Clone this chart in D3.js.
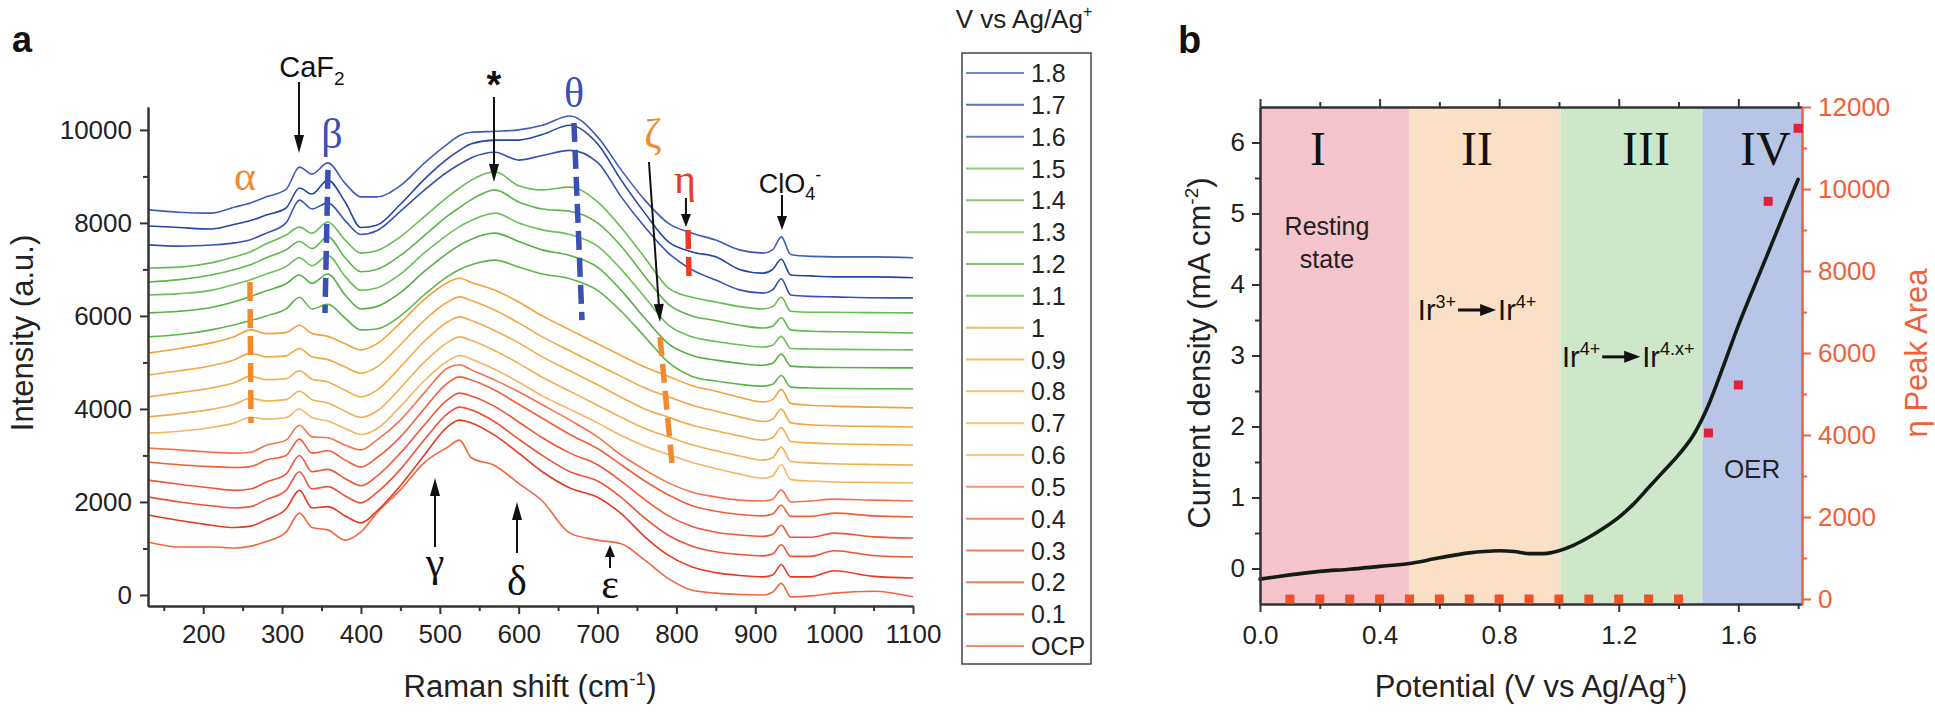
<!DOCTYPE html>
<html><head><meta charset="utf-8">
<script src="https://cdn.jsdelivr.net/npm/d3@7"></script>
<style>body{margin:0;background:#fff}svg{display:block}</style>
</head><body><svg id="c" width="1935" height="713"></svg>
<script>
// ---------------- DATA: panel a (Raman spectra) ----------------
const ramanShift = [130,170,210,240,260,280,305,322,338,358,380,400,420,450,480,510,525,540,570,600,630,665,700,730,760,790,820,850,880,910,922,933,945,970,1000,1050,1100];
const potentials = ["1.8","1.7","1.6","1.5","1.4","1.3","1.2","1.1","1","0.9","0.8","0.7","0.6","0.5","0.4","0.3","0.2","0.1","OCP"];
const spec_1_8 = [8280,8230,8210,8340,8430,8560,8720,9200,9050,9290,8850,8560,8560,8800,9280,9700,9880,9950,9970,10000,10100,10300,9850,9140,8490,7990,7780,7630,7420,7350,7420,7700,7320,7280,7270,7270,7250];
const spec_1_7 = [7935,7900,7870,7970,8050,8170,8320,8750,8620,8920,8450,7900,7950,8400,8930,9380,9560,9700,9780,9780,9900,10100,9700,8920,8210,7590,7375,7270,7000,6920,7000,7220,6880,6860,6840,6840,6820];
const spec_1_6 = [7527,7500,7525,7570,7640,7780,8000,8490,8300,8430,8050,7750,7830,8250,8700,9100,9260,9400,9520,9350,9450,9560,9300,8560,7910,7350,6990,6770,6560,6490,6560,6800,6450,6420,6410,6390,6387];
const spec_1_5 = [7030,7050,7140,7270,7380,7550,7740,7910,7780,8020,7630,7350,7400,7700,8130,8560,8750,8920,9100,8800,8710,8770,8450,7900,7250,6600,6400,6300,6200,6150,6200,6400,6100,6080,6080,6070,6065];
const spec_1_4 = [6730,6780,6880,7000,7100,7250,7420,7600,7450,7700,7250,6950,7000,7300,7720,8150,8330,8500,8710,8450,8300,8250,8000,7500,6850,6250,6000,5900,5800,5740,5780,5960,5700,5670,5660,5650,5634];
const spec_1_3 = [6450,6480,6550,6680,6780,6900,7060,7250,7080,7300,6850,6550,6600,6900,7350,7750,7920,8050,8210,8000,7850,7750,7500,7000,6400,5800,5550,5450,5380,5330,5370,5560,5300,5290,5280,5275,5269];
const spec_1_2 = [6065,6100,6180,6310,6420,6540,6690,6880,6700,6900,6450,6150,6200,6500,6950,7350,7520,7650,7780,7600,7420,7300,7050,6550,5950,5400,5150,5050,4980,4940,4980,5180,4920,4900,4890,4885,4882];
const spec_1_1 = [5550,5600,5700,5810,5900,6000,6150,6400,6150,6250,5950,5700,5720,6000,6450,6850,7000,7100,7200,7050,6900,6800,6550,6100,5550,5000,4700,4600,4530,4490,4530,4720,4470,4450,4440,4435,4430];
const spec_1_0 = [5200,5300,5420,5560,5700,5620,5640,5800,5620,5560,5400,5270,5400,5850,6350,6720,6810,6720,6550,6300,6000,5700,5400,5150,4900,4700,4500,4380,4250,4150,4200,4420,4120,4080,4060,4040,4022];
const spec_0_9 = [4730,4820,4930,5060,5200,5120,5140,5300,5120,5060,4900,4770,4900,5380,5900,6300,6410,6330,6120,5850,5550,5250,4950,4700,4450,4260,4080,3950,3830,3730,3780,4000,3700,3660,3640,3625,3613];
const spec_0_8 = [4260,4350,4450,4570,4700,4630,4650,4820,4640,4580,4400,4260,4400,4900,5450,5870,5980,5900,5680,5420,5120,4820,4520,4250,4000,3820,3650,3530,3420,3330,3380,3600,3300,3270,3250,3235,3226];
const spec_0_7 = [3830,3900,3990,4100,4230,4170,4200,4380,4200,4130,3950,3820,3950,4450,5000,5430,5550,5470,5250,4980,4680,4380,4080,3820,3580,3400,3230,3100,2990,2900,2950,3180,2870,2840,2820,2805,2796];
const spec_0_6 = [3480,3520,3600,3700,3820,3780,3810,4000,3810,3740,3580,3450,3570,4050,4600,5030,5150,5070,4850,4580,4280,3990,3700,3430,3200,3020,2850,2720,2600,2510,2560,2800,2480,2450,2430,2420,2409];
const spec_0_5 = [3160,3120,3070,3050,3070,3220,3330,3650,3400,3380,3220,3120,3330,3760,4340,4880,4950,4840,4620,4370,4090,3760,3400,3010,2690,2410,2210,2110,2040,2020,2060,2260,2000,2020,2060,2040,2022];
const spec_0_4 = [2860,2800,2760,2740,2760,2900,3000,3350,3050,3100,2900,2750,2950,3400,4000,4560,4690,4620,4400,4100,3800,3450,3150,2800,2450,2150,1920,1800,1730,1700,1740,1930,1690,1690,1760,1700,1677];
const spec_0_3 = [2470,2380,2300,2250,2280,2430,2600,3000,2650,2700,2500,2350,2550,3050,3650,4200,4340,4280,4050,3720,3380,3050,2800,2450,2050,1700,1470,1350,1290,1260,1300,1500,1240,1240,1330,1250,1226];
const spec_0_2 = [2110,2000,1920,1870,1900,2050,2250,2650,2280,2330,2130,1980,2200,2700,3330,3900,4040,3980,3720,3350,3000,2650,2450,2100,1650,1280,1050,930,870,840,880,1080,830,830,950,850,817];
const spec_0_1 = [1720,1600,1500,1450,1480,1620,1850,2250,1870,1900,1700,1550,1800,2350,3000,3620,3760,3700,3430,3050,2650,2300,2100,1750,1250,850,600,480,420,390,430,650,390,390,520,400,366];
const spec_OCP = [1140,1030,1030,1010,1050,1150,1350,1760,1450,1400,1180,1355,1760,2260,2840,3180,3330,2950,2780,2400,2020,1330,1180,1100,750,350,100,40,10,0,60,250,-40,-20,40,80,-40];
const traceColors = ["#3f5bb8","#2346a4","#3552b2","#67bb54","#5db64b","#6cbf5a","#55b044","#5cb54a","#f2a238","#f3a741","#f4ab4a","#f3ae51","#f5b560","#f3724e","#f25e3a","#f15634","#ef5236","#e8391f","#f2663f"];
const ramanTicks = [200,300,400,500,600,700,800,900,1000,1100];
const ramanMinor = [150,250,350,450,550,650,750,850,950,1050];
const intensityTicks = [0,2000,4000,6000,8000,10000];
const intensityMinor = [1000,3000,5000,7000,9000];

// ---------------- DATA: panel b ----------------
const cvPotential = [0,0.05,0.1,0.2,0.3,0.4,0.5,0.6,0.7,0.75,0.8,0.85,0.9,0.95,1.0,1.05,1.1,1.15,1.2,1.25,1.3,1.35,1.4,1.45,1.5,1.55,1.6,1.65,1.7,1.75,1.8];
const cvCurrent = [-0.15,-0.12,-0.09,-0.04,-0.01,0.03,0.07,0.15,0.22,0.24,0.25,0.24,0.21,0.21,0.25,0.33,0.44,0.57,0.72,0.91,1.14,1.37,1.6,1.88,2.3,2.85,3.42,3.94,4.45,4.97,5.48];
const peakPotential = [0.1,0.2,0.3,0.4,0.5,0.6,0.7,0.8,0.9,1.0,1.1,1.2,1.3,1.4,1.5,1.6,1.7,1.8];
const peakArea = [0,0,0,0,0,0,0,0,0,0,0,0,0,0,4050,5220,9700,11480];
const regionNames = ["I","II","III","IV"];
const regionStart = [0,0.5,1.005,1.48];
const regionEnd = [0.5,1.005,1.48,1.813];
const regionColors = ["#f5c4cc","#fae0c6","#cee6ca","#b9c5e6"];
const potentialTicks = [0,0.4,0.8,1.2,1.6];
const potentialMinor = [0.2,0.6,1.0,1.4,1.8];
const currentTicks = [0,1,2,3,4,5,6];
const currentMinor = [0.5,1.5,2.5,3.5,4.5,5.5];
const areaTicks = [0,2000,4000,6000,8000,10000,12000];
const areaMinor = [1000,3000,5000,7000,9000,11000];

// ---------------- DRAW ----------------
const FONT = "'Liberation Sans', Arial, Helvetica, sans-serif";
const SERIF = "'Liberation Serif', 'Times New Roman', serif";
const svg = d3.select('#c');
const specArrays = [spec_1_8,spec_1_7,spec_1_6,spec_1_5,spec_1_4,spec_1_3,spec_1_2,spec_1_1,spec_1_0,spec_0_9,spec_0_8,spec_0_7,spec_0_6,spec_0_5,spec_0_4,spec_0_3,spec_0_2,spec_0_1,spec_OCP];
const intFmt = d3.format('d');

function styleAxis(g, color, textColor){
  g.attr('font-family',FONT).attr('font-size',26);
  g.selectAll('.domain').attr('stroke',color).attr('stroke-width',2);
  g.selectAll('.tick line').attr('stroke',color).attr('stroke-width',2);
  g.selectAll('.tick text').attr('fill',textColor||color);
}
function arrow(g,x1,y1,x2,y2,hl,hw,sw){
  hl=hl||16; hw=hw||5; sw=sw||2;
  const a=Math.atan2(y2-y1,x2-x1);
  const bx=x2-hl*Math.cos(a), by=y2-hl*Math.sin(a);
  g.append('line').attr('x1',x1).attr('y1',y1).attr('x2',bx+Math.cos(a)*2).attr('y2',by+Math.sin(a)*2).attr('stroke','#111').attr('stroke-width',sw);
  const px=-Math.sin(a)*hw, py=Math.cos(a)*hw;
  g.append('path').attr('d',`M${x2},${y2}L${bx+px},${by+py}L${bx-px},${by-py}Z`).attr('fill','#111');
}

// ===== Panel a =====
const xA = d3.scaleLinear().domain([130,1100]).range([148,913]);
const yA = d3.scaleLinear().domain([-237,10492]).range([606,107]);
const gA = svg.append('g');

const line = d3.line().x((d,i)=>xA(ramanShift[i])).y(d=>yA(d)).curve(d3.curveMonotoneX);
for(let i=specArrays.length-1;i>=0;i--){
  gA.append('path').attr('d',line(specArrays[i])).attr('fill','none')
    .attr('stroke',traceColors[i]).attr('stroke-width',1.6).attr('stroke-linejoin','round');
}

gA.append('g').attr('transform','translate(148,0)').call(d3.axisLeft(yA).tickValues(intensityMinor).tickSize(5).tickFormat('').tickSizeOuter(0)).call(g=>styleAxis(g,'#333'));
gA.append('g').attr('transform','translate(148,0)').call(d3.axisLeft(yA).tickValues(intensityTicks).tickFormat(intFmt).tickSize(8).tickPadding(8).tickSizeOuter(0)).call(g=>styleAxis(g,'#333','#222'));
gA.append('g').attr('transform','translate(0,606)').call(d3.axisBottom(xA).tickValues(ramanMinor).tickSize(5).tickFormat('').tickSizeOuter(0)).call(g=>styleAxis(g,'#333'));
gA.append('g').attr('transform','translate(0,606)').call(d3.axisBottom(xA).tickValues(ramanTicks).tickFormat(intFmt).tickSize(8).tickPadding(11).tickSizeOuter(0)).call(g=>styleAxis(g,'#333','#222'));

// dashed annotation lines (data units)
const dashMarks = [
  {x1:358.2,y1:9140,x2:354.4,y2:6063,c:'#3a50b4'},
  {x1:670.1,y1:10148,x2:680.3,y2:5912,c:'#3a50b4'},
  {x1:259.3,y1:6730,x2:260.6,y2:3698,c:'#f28a2e'},
  {x1:779.2,y1:5547,x2:794.4,y2:2838,c:'#f28a2e'},
  {x1:814.7,y1:7848,x2:816.0,y2:6816,c:'#ec3a24'}
];
dashMarks.forEach(d=>{
  gA.append('line').attr('x1',xA(d.x1)).attr('y1',yA(d.y1)).attr('x2',xA(d.x2)).attr('y2',yA(d.y2))
    .attr('stroke',d.c).attr('stroke-width',5.5).attr('stroke-dasharray','19,8');
});
// arrows (data units)
const arrowsA = [
  {x1:321.5,y1:11030,x2:321.5,y2:9503},
  {x1:568.7,y1:10707,x2:568.7,y2:8880},
  {x1:765.2,y1:9310,x2:779.2,y2:5870},
  {x1:812.1,y1:8536,x2:812.1,y2:7912,h:13},
  {x1:933.9,y1:8600,x2:933.9,y2:7848,h:14},
  {x1:493.9,y1:1032,x2:493.9,y2:2516},
  {x1:597.9,y1:903,x2:597.9,y2:2000},
  {x1:715.8,y1:580,x2:715.8,y2:1075,h:12}
];
arrowsA.forEach(d=>arrow(gA,xA(d.x1),yA(d.y1),xA(d.x2),yA(d.y2),d.h||18,5,2));

// greek labels
const greekA = [
  {t:'α',x:253,y:8708,c:'#f28a2e'},
  {t:'β',x:363.3,y:9610,c:'#3a50b4'},
  {t:'θ',x:670.1,y:10492,c:'#3a50b4'},
  {t:'ζ',x:770.3,y:9610,c:'#f28a2e'},
  {t:'η',x:810.9,y:8643,c:'#ec3a24'},
  {t:'γ',x:493.9,y:408,c:'#111'},
  {t:'δ',x:597.9,y:0,c:'#111'},
  {t:'ε',x:715.8,y:-65,c:'#111'}
];
greekA.forEach(d=>{
  gA.append('text').attr('x',xA(d.x)).attr('y',yA(d.y)).attr('text-anchor','middle')
    .attr('font-family',SERIF).attr('font-size',42).attr('fill',d.c).text(d.t);
});
// CaF2
const caf = gA.append('text').attr('x',xA(337.9)).attr('y',yA(11137)).attr('text-anchor','middle')
  .attr('font-family',FONT).attr('font-size',29).attr('fill','#111');
caf.append('tspan').text('CaF');
caf.append('tspan').attr('font-size',19).attr('dy',8).text('2');
// asterisk
gA.append('text').attr('x',xA(568.7)).attr('y',yA(10685)).attr('text-anchor','middle')
  .attr('font-family',FONT).attr('font-size',38).attr('font-weight','bold').attr('fill','#111').text('*');
// ClO4-
const clo = gA.append('text').attr('x',xA(944)).attr('y',yA(8643)).attr('text-anchor','middle')
  .attr('font-family',FONT).attr('font-size',27).attr('fill','#111');
clo.append('tspan').text('ClO');
clo.append('tspan').attr('font-size',18).attr('dy',7).text('4');
clo.append('tspan').attr('font-size',18).attr('dy',-19).text('-');

// panel a titles
svg.append('text').attr('x',12).attr('y',52).attr('font-family',FONT).attr('font-weight','bold').attr('font-size',36).attr('fill','#111').text('a');
svg.append('text').attr('transform','translate(33,333) rotate(-90)').attr('text-anchor','middle')
  .attr('font-family',FONT).attr('font-size',31).attr('fill','#222').text('Intensity (a.u.)');
const rt = svg.append('text').attr('x',530).attr('y',697).attr('text-anchor','middle')
  .attr('font-family',FONT).attr('font-size',31).attr('fill','#222');
rt.append('tspan').text('Raman shift (cm');
rt.append('tspan').attr('font-size',19).attr('dy',-12).text('-1');
rt.append('tspan').attr('dy',12).text(')');

// ===== Legend =====
const leg = svg.append('g');
const lt = leg.append('text').attr('x',1024).attr('y',28).attr('text-anchor','middle')
  .attr('font-family',FONT).attr('font-size',26).attr('fill','#222');
lt.append('tspan').text('V vs Ag/Ag');
lt.append('tspan').attr('font-size',16).attr('dy',-11).text('+');
leg.append('rect').attr('x',962).attr('y',53).attr('width',129).attr('height',611)
  .attr('fill','none').attr('stroke','#444').attr('stroke-width',1.5);
const legY = d3.scalePoint().domain(potentials).range([73,646]);
potentials.forEach((p,i)=>{
  leg.append('line').attr('x1',966).attr('x2',1024).attr('y1',legY(p)).attr('y2',legY(p))
    .attr('stroke',traceColors[i]).attr('stroke-width',2).attr('stroke-opacity',0.75);
  leg.append('text').attr('x',1031).attr('y',legY(p)+9).attr('font-family',FONT).attr('font-size',25).attr('fill','#222').text(p);
});

// ===== Panel b =====
const xB = d3.scaleLinear().domain([0,1.813]).range([1260,1802]);
const yB = d3.scaleLinear().domain([-0.5,6.5]).range([604,107]);
const yR = d3.scaleLinear().domain([-122,12000]).range([604,107]);
const gB = svg.append('g');
regionNames.forEach((n,i)=>{
  gB.append('rect').attr('x',xB(regionStart[i])).attr('y',yB(6.5)).attr('width',xB(regionEnd[i])-xB(regionStart[i]))
    .attr('height',yB(-0.5)-yB(6.5)).attr('fill',regionColors[i]);
});
const regionLabelX = [0.194,0.726,1.291,1.69];
regionNames.forEach((n,i)=>{
  gB.append('text').attr('x',xB(regionLabelX[i])).attr('y',yB(5.68)).attr('text-anchor','middle')
    .attr('font-family',SERIF).attr('font-size',48).attr('fill','#111').text(n);
});
gB.append('text').attr('x',xB(0.224)).attr('y',yB(4.70)).attr('text-anchor','middle').attr('font-family',FONT).attr('font-size',25).attr('fill','#222').text('Resting');
gB.append('text').attr('x',xB(0.224)).attr('y',yB(4.23)).attr('text-anchor','middle').attr('font-family',FONT).attr('font-size',25).attr('fill','#222').text('state');
gB.append('text').attr('x',xB(1.646)).attr('y',yB(1.27)).attr('text-anchor','middle').attr('font-family',FONT).attr('font-size',26).attr('fill','#222').text('OER');

function irLabel(x0, yBase, sup1, sup2){
  const t1 = gB.append('text').attr('x',x0).attr('y',yBase).attr('font-family',FONT).attr('font-size',29).attr('fill','#111');
  t1.append('tspan').text('Ir');
  t1.append('tspan').attr('font-size',18).attr('dy',-12).text(sup1);
  const e1 = x0 + t1.node().getComputedTextLength();
  arrow(gB, e1+2, yBase-10, e1+40, yBase-10, 16, 6, 3);
  const t2 = gB.append('text').attr('x',e1+42).attr('y',yBase).attr('font-family',FONT).attr('font-size',29).attr('fill','#111');
  t2.append('tspan').text('Ir');
  t2.append('tspan').attr('font-size',18).attr('dy',-12).text(sup2);
}
irLabel(xB(0.528), yB(3.5), '3+', '4+');
irLabel(xB(1.010), yB(2.84), '4+', '4.x+');

// current curve
const cvLine = d3.line().x((d,i)=>xB(cvPotential[i])).y(d=>yB(d)).curve(d3.curveMonotoneX);
gB.append('path').attr('d',cvLine(cvCurrent)).attr('fill','none').attr('stroke','#141a14').attr('stroke-width',3.6).attr('stroke-linecap','round');

// axes
gB.append('g').attr('transform','translate(1260,0)').call(d3.axisLeft(yB).tickValues(currentMinor).tickSize(5).tickFormat('').tickSizeOuter(0)).call(g=>styleAxis(g,'#333'));
gB.append('g').attr('transform','translate(1260,0)').call(d3.axisLeft(yB).tickValues(currentTicks).tickFormat(intFmt).tickSize(8).tickPadding(7).tickSizeOuter(0)).call(g=>styleAxis(g,'#333','#222'));
gB.append('g').attr('transform','translate(0,604)').call(d3.axisBottom(xB).tickValues(potentialMinor).tickSize(5).tickFormat('').tickSizeOuter(0)).call(g=>styleAxis(g,'#333'));
gB.append('g').attr('transform','translate(0,604)').call(d3.axisBottom(xB).tickValues(potentialTicks).tickFormat(d3.format('.1f')).tickSize(8).tickPadding(14).tickSizeOuter(0)).call(g=>styleAxis(g,'#333','#222'));
gB.append('g').attr('transform','translate(0,107)').call(d3.axisTop(xB).tickValues(potentialMinor).tickSize(5).tickFormat('').tickSizeOuter(0)).call(g=>styleAxis(g,'#333'));
gB.append('g').attr('transform','translate(0,107)').call(d3.axisTop(xB).tickValues(potentialTicks).tickSize(8).tickFormat('').tickSizeOuter(0)).call(g=>styleAxis(g,'#333'));
gB.append('g').attr('transform','translate(1802,0)').call(d3.axisRight(yR).tickValues(areaMinor).tickSize(5).tickFormat('').tickSizeOuter(0)).call(g=>styleAxis(g,'#f0603a'));
gB.append('g').attr('transform','translate(1802,0)').call(d3.axisRight(yR).tickValues(areaTicks).tickFormat(intFmt).tickSize(9).tickPadding(7).tickSizeOuter(0)).call(g=>styleAxis(g,'#f0603a'));

// peak area squares
peakArea.forEach((v,i)=>{
  gB.append('rect').attr('x',xB(peakPotential[i])-4.5).attr('y',yR(v)-4.5).attr('width',9).attr('height',9)
    .attr('fill', v>0 ? '#e2223c' : '#ee5226');
});

// panel b titles
svg.append('text').attr('x',1178).attr('y',53).attr('font-family',FONT).attr('font-weight','bold').attr('font-size',38).attr('fill','#111').text('b');
const ct = svg.append('text').attr('transform','translate(1210,353) rotate(-90)').attr('text-anchor','middle')
  .attr('font-family',FONT).attr('font-size',31).attr('fill','#222');
ct.append('tspan').text('Current density (mA cm');
ct.append('tspan').attr('font-size',19).attr('dy',-12).text('-2');
ct.append('tspan').attr('dy',12).text(')');
const pt = svg.append('text').attr('x',1531).attr('y',697).attr('text-anchor','middle')
  .attr('font-family',FONT).attr('font-size',31).attr('fill','#222');
pt.append('tspan').text('Potential (V vs Ag/Ag');
pt.append('tspan').attr('font-size',19).attr('dy',-12).text('+');
pt.append('tspan').attr('dy',12).text(')');
svg.append('text').attr('transform','translate(1927,353) rotate(-90)').attr('text-anchor','middle')
  .attr('font-family',FONT).attr('font-size',31).attr('fill','#f0603a').text('η Peak Area');
</script>
</body></html>
